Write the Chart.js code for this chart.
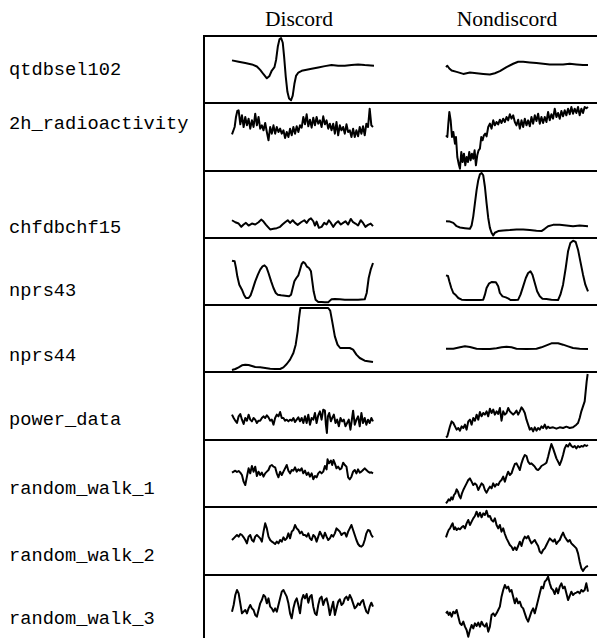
<!DOCTYPE html>
<html>
<head>
<meta charset="utf-8">
<script src="https://cdn.jsdelivr.net/npm/chart.js@4.4.0/dist/chart.umd.min.js"></script>
<style>
  body { margin: 0; background: #fff; }
  #page { position: relative; width: 597px; height: 638px; overflow: hidden; background: #fff; }
  .hline { position: absolute; left: 203px; right: 0; height: 2px; background: #000; z-index: 2; }
  .vline { position: absolute; left: 203px; width: 2px; bottom: 0; background: #000; z-index: 2; }
  .label { position: absolute; left: 9px; font-family: "Liberation Mono", "Courier New", monospace; font-size: 18.7px; line-height: 0; white-space: pre; color: #000; }
  .head { position: absolute; font-family: "Liberation Serif", "Times New Roman", serif; font-size: 21.5px; line-height: 0; white-space: pre; color: #000; transform: translateX(-50%); }
  canvas { position: absolute; z-index: 1; }
</style>
</head>
<body>
<div id="page"></div>
<script>
// Du lieu -----------------------------------------------------------------
// ten chuoi (cot trai)
const seriesNames = ["qtdbsel102", "2h_radioactivity", "chfdbchf15", "nprs43", "nprs44",
  "power_data", "random_walk_1", "random_walk_2", "random_walk_3"];
const columnTitles = ["Discord", "Nondiscord"];

// moi diem: [thoi gian, gia tri]
const qtdbDiscord = [[20,126],[40,122],[60,118],[80,114],[95,108],[105,98],[115,85],[125,73],[133,80],[140,96],[148,106],[153,128],[158,166],[163,188],[168,192],[173,178],[177,138],[182,78],[187,33],[192,13],[198,8],[203,22],[208,56],[213,80],[220,90],[230,95],[245,98],[260,101],[280,105],[300,109],[320,112],[340,110],[360,110],[380,112],[400,114],[420,112],[448,110]];
const qtdbNondiscord = [[18,106],[22,110],[28,102],[35,96],[50,92],[70,86],[90,90],[110,88],[130,86],[150,84],[165,88],[180,94],[200,106],[220,116],[235,122],[250,122],[270,120],[290,118],[310,116],[330,114],[350,114],[370,114],[390,116],[410,114],[430,112],[445,112]];

const radioDiscord = [[20,110],[28,132],[32,162],[36,180],[40,182],[45,140],[50,167],[55,132],[60,162],[65,137],[70,157],[75,127],[80,152],[85,132],[90,172],[95,137],[100,162],[105,127],[110,137],[115,122],[120,144],[125,117],[130,92],[135,132],[140,112],[145,137],[150,112],[155,132],[160,117],[165,127],[170,112],[175,122],[180,99],[185,117],[190,102],[195,127],[200,107],[205,132],[210,112],[215,134],[220,117],[225,137],[230,130],[235,162],[240,140],[245,170],[250,134],[255,154],[260,130],[265,160],[270,137],[275,162],[280,142],[285,152],[290,132],[295,164],[300,140],[305,152],[310,127],[315,142],[320,122],[325,142],[330,112],[335,147],[340,107],[345,137],[350,122],[355,132],[360,112],[365,140],[370,117],[375,122],[380,102],[385,127],[390,102],[395,122],[400,104],[405,132],[410,112],[415,134],[420,107],[425,142],[430,132],[435,187],[440,137],[445,132]];
const radioNondiscord = [[18,107],[22,102],[25,142],[28,177],[32,152],[36,102],[40,117],[45,82],[48,102],[52,42],[56,22],[60,7],[64,57],[68,27],[72,52],[76,17],[80,42],[84,27],[88,57],[92,32],[96,52],[100,37],[104,62],[108,17],[112,47],[116,62],[120,67],[124,102],[128,92],[132,107],[136,112],[140,104],[145,132],[150,142],[155,127],[160,152],[165,137],[170,147],[175,140],[180,154],[185,144],[190,157],[195,147],[200,162],[205,152],[210,170],[215,157],[220,167],[225,147],[230,137],[235,154],[240,127],[245,152],[250,132],[255,157],[260,137],[265,152],[270,134],[275,162],[280,142],[285,167],[290,150],[295,172],[300,142],[305,162],[310,144],[315,162],[320,147],[325,177],[330,152],[335,170],[340,157],[345,187],[350,162],[355,174],[360,157],[365,180],[370,164],[375,182],[380,167],[385,187],[390,170],[395,192],[400,172],[405,187],[410,174],[415,192],[420,167],[425,187],[430,174],[435,192],[440,188],[445,192]];

const chfDiscord = [[20,54],[30,48],[40,44],[48,34],[55,41],[62,46],[70,38],[80,44],[90,41],[100,48],[108,56],[115,50],[122,41],[128,34],[135,26],[145,28],[155,30],[165,34],[172,41],[180,48],[188,54],[195,46],[203,54],[210,46],[218,40],[228,48],[238,54],[245,46],[252,56],[258,60],[265,51],[270,38],[275,50],[282,31],[290,34],[298,46],[305,41],[312,54],[318,46],[325,34],[332,44],[340,51],[348,41],[355,46],[362,51],[370,41],[378,58],[385,48],[392,44],[400,38],[408,54],[415,46],[422,34],[430,40],[438,44],[445,36]];
const chfNondiscord = [[18,51],[30,50],[40,46],[50,36],[60,32],[75,30],[90,28],[95,38],[100,66],[105,106],[110,146],[115,176],[120,194],[125,198],[130,191],[135,156],[140,106],[145,61],[150,31],[155,16],[160,8],[165,16],[175,21],[190,23],[210,24],[230,26],[250,26],[270,24],[290,22],[305,21],[315,28],[325,36],[340,40],[360,40],[380,38],[400,36],[420,38],[445,36]];

const nprs43Discord = [[20,133],[28,131],[32,111],[36,86],[42,61],[50,46],[56,31],[62,21],[70,21],[76,29],[82,46],[90,71],[98,91],[105,106],[112,116],[118,119],[124,113],[130,96],[138,71],[145,51],[152,36],[158,31],[168,29],[180,28],[192,26],[198,31],[203,51],[208,71],[214,81],[220,89],[225,106],[230,123],[235,129],[240,125],[246,115],[252,111],[258,101],[262,71],[266,41],[272,16],[280,9],[290,9],[300,8],[310,8],[315,13],[320,17],[330,18],[345,17],[360,16],[380,16],[400,16],[420,17],[426,36],[432,81],[438,106],[445,126]];
const nprs43Nondiscord = [[18,89],[24,87],[28,71],[34,51],[40,36],[48,29],[55,21],[65,16],[80,15],[100,15],[120,15],[130,16],[135,31],[140,51],[147,64],[155,69],[168,68],[175,56],[180,36],[188,26],[198,23],[206,19],[212,15],[225,15],[235,16],[242,31],[250,56],[258,81],[265,96],[272,101],[278,91],[285,66],[292,41],[300,26],[308,19],[320,18],[335,16],[355,15],[362,31],[370,61],[378,111],[385,161],[392,186],[400,193],[408,189],[415,166],[422,131],[430,91],[437,61],[445,41]];

const nprs44Discord = [[20,6],[30,9],[40,14],[50,20],[60,22],[70,21],[80,18],[90,15],[105,14],[120,12],[135,10],[150,9],[165,9],[175,14],[185,24],[195,37],[205,57],[212,82],[218,122],[222,162],[226,192],[232,192],[250,192],[270,192],[290,192],[310,192],[316,184],[322,152],[330,107],[338,82],[346,72],[360,72],[375,72],[385,67],[395,52],[405,42],[420,34],[445,30]];
const nprs44Nondiscord = [[18,70],[40,70],[60,74],[75,77],[90,75],[110,70],[130,69],[150,69],[170,71],[185,74],[200,76],[215,74],[230,70],[260,69],[290,70],[305,74],[320,80],[335,86],[355,86],[370,82],[385,77],[400,72],[420,70],[445,69]];

const powerDiscord = [[20,76],[25,66],[30,58],[35,51],[40,71],[45,78],[50,61],[55,48],[60,66],[65,58],[70,76],[75,61],[80,56],[85,66],[90,61],[95,51],[100,58],[105,58],[110,66],[115,71],[120,66],[125,74],[130,68],[135,58],[140,61],[145,46],[150,66],[155,76],[160,71],[165,84],[170,66],[175,66],[180,58],[185,61],[190,56],[195,61],[200,58],[205,66],[210,54],[215,61],[220,68],[225,56],[230,66],[235,51],[240,71],[245,51],[250,76],[255,46],[260,66],[265,61],[270,81],[275,51],[280,74],[285,86],[290,61],[295,91],[300,88],[303,46],[306,21],[309,71],[313,81],[318,56],[322,66],[327,76],[332,51],[337,61],[342,41],[347,66],[352,56],[357,61],[362,41],[367,51],[372,61],[377,31],[382,66],[385,88],[390,46],[395,61],[400,71],[405,41],[410,81],[415,51],[420,66],[425,46],[430,61],[435,51],[440,66],[445,56]];
const powerNondiscord = [[18,8],[22,11],[26,26],[30,41],[35,56],[40,51],[45,41],[50,31],[55,36],[60,28],[65,41],[70,36],[75,46],[80,31],[85,56],[90,61],[95,46],[100,66],[105,58],[110,76],[115,61],[120,84],[125,71],[130,81],[135,76],[140,86],[145,71],[150,94],[155,81],[160,91],[165,76],[170,86],[175,78],[180,96],[185,58],[190,86],[195,76],[200,81],[205,96],[210,86],[215,81],[220,76],[225,81],[230,88],[235,76],[240,86],[245,98],[250,91],[255,81],[260,61],[265,46],[270,31],[275,36],[280,26],[285,38],[290,28],[295,36],[300,31],[305,41],[310,36],[315,46],[320,34],[325,40],[330,36],[340,38],[350,34],[360,38],[370,36],[380,40],[390,36],[400,38],[410,46],[415,51],[420,66],[425,86],[430,101],[435,116],[438,146],[441,176],[444,198]];

const rw1Discord = [[20,103],[25,106],[30,109],[35,105],[40,108],[45,103],[50,96],[55,76],[60,66],[65,91],[70,116],[75,101],[80,123],[85,106],[90,121],[95,93],[100,106],[105,96],[110,103],[115,91],[120,101],[125,106],[130,111],[135,123],[140,126],[145,121],[150,119],[155,101],[160,89],[165,106],[170,96],[175,106],[180,116],[185,126],[190,109],[195,101],[200,111],[205,109],[210,119],[215,106],[220,113],[225,109],[230,116],[235,101],[240,109],[245,96],[250,103],[255,91],[260,101],[265,83],[270,93],[275,89],[280,101],[285,106],[290,101],[295,106],[300,123],[305,113],[308,143],[312,131],[318,139],[322,126],[326,141],[330,131],[335,116],[340,121],[345,113],[350,116],[355,133],[360,126],[365,121],[370,89],[375,83],[380,91],[385,106],[390,111],[395,101],[400,113],[405,103],[410,106],[415,111],[420,116],[425,111],[430,106],[435,103],[440,104],[445,101]];
const rw1Nondiscord = [[18,11],[22,16],[26,23],[30,19],[34,29],[38,23],[42,36],[46,41],[50,53],[54,46],[58,33],[62,26],[66,41],[70,51],[75,61],[80,71],[85,81],[90,86],[95,76],[100,66],[105,71],[110,66],[115,51],[120,61],[125,71],[130,66],[135,51],[140,43],[145,53],[150,61],[155,56],[160,71],[165,61],[170,69],[175,66],[180,76],[185,81],[190,91],[195,76],[200,93],[205,106],[210,96],[215,101],[220,116],[225,129],[230,131],[235,121],[240,111],[245,131],[250,146],[255,156],[260,153],[265,136],[270,129],[275,131],[280,126],[285,121],[290,113],[295,111],[300,116],[305,123],[310,126],[315,129],[320,133],[325,151],[330,171],[335,189],[340,176],[345,161],[350,146],[355,136],[360,126],[365,139],[370,156],[375,176],[380,186],[385,181],[390,191],[395,183],[400,179],[405,183],[410,176],[415,183],[420,179],[425,183],[430,181],[435,186],[440,183],[445,186]];

const rw2Discord = [[20,105],[25,110],[30,115],[35,120],[40,115],[45,123],[50,120],[55,113],[60,105],[65,95],[70,115],[75,120],[80,105],[85,100],[90,115],[95,120],[100,115],[105,110],[110,100],[115,130],[120,155],[125,140],[130,115],[135,105],[140,100],[145,97],[150,93],[155,100],[160,95],[165,105],[170,100],[175,113],[180,105],[185,110],[190,125],[195,110],[200,130],[205,135],[210,150],[215,140],[220,135],[225,125],[230,130],[235,120],[240,120],[245,115],[250,125],[255,110],[260,105],[265,120],[270,115],[275,100],[280,115],[285,130],[290,120],[295,110],[300,127],[305,115],[310,105],[315,110],[320,120],[325,115],[330,125],[335,140],[340,135],[345,130],[350,120],[355,125],[360,127],[365,115],[370,130],[375,140],[380,150],[385,135],[390,120],[395,105],[400,93],[405,87],[410,85],[415,90],[420,105],[425,125],[430,135],[435,133],[440,120],[445,113]];
const rw2Nondiscord = [[18,113],[22,125],[26,135],[30,140],[35,150],[38,155],[42,137],[46,143],[50,135],[55,140],[60,137],[65,143],[70,147],[75,140],[80,155],[85,165],[90,150],[95,160],[100,170],[105,177],[110,190],[115,175],[120,187],[125,173],[130,185],[135,180],[140,193],[145,175],[150,177],[155,165],[160,160],[165,170],[170,150],[175,140],[180,150],[185,130],[190,140],[195,123],[200,110],[205,100],[210,90],[215,85],[220,75],[225,83],[230,75],[235,87],[240,100],[245,87],[250,105],[255,115],[260,110],[265,117],[270,105],[275,95],[280,100],[285,105],[290,95],[295,87],[300,70],[305,65],[310,75],[315,80],[320,90],[325,100],[330,110],[335,105],[340,100],[345,107],[350,93],[355,100],[360,105],[365,117],[370,127],[375,115],[380,107],[385,100],[390,105],[395,95],[400,90],[405,85],[410,80],[415,65],[420,40],[425,20],[430,12],[435,20],[440,25],[445,27]];

const rw3Discord = [[20,79],[25,99],[30,129],[35,144],[40,134],[45,104],[50,74],[55,79],[60,84],[65,74],[70,89],[75,99],[80,89],[85,84],[90,69],[95,64],[100,84],[105,104],[110,114],[115,129],[120,124],[125,104],[130,119],[135,94],[140,89],[145,79],[150,89],[155,79],[160,99],[165,119],[170,139],[175,144],[180,134],[185,124],[190,104],[195,74],[200,59],[205,89],[210,109],[215,119],[220,99],[225,74],[230,114],[235,129],[240,119],[245,132],[250,106],[255,124],[260,129],[265,94],[270,74],[275,69],[280,99],[285,119],[290,124],[295,99],[300,114],[305,119],[310,99],[315,69],[320,89],[325,109],[330,69],[335,89],[340,109],[345,116],[350,99],[355,104],[360,119],[365,124],[370,114],[375,129],[380,119],[385,104],[390,89],[395,94],[400,104],[405,99],[410,109],[415,114],[420,94],[425,79],[430,74],[435,94],[440,106],[445,94]];
const rw3Nondiscord = [[18,74],[22,79],[26,69],[30,76],[35,64],[40,79],[45,74],[50,84],[55,64],[60,44],[65,39],[70,49],[75,34],[80,24],[85,4],[90,24],[95,39],[100,29],[105,44],[110,36],[115,46],[120,34],[125,49],[130,39],[135,34],[140,44],[145,19],[150,34],[155,69],[160,74],[165,66],[170,74],[175,84],[180,94],[185,124],[190,144],[195,159],[200,149],[205,154],[210,139],[215,144],[220,124],[225,104],[230,119],[235,104],[240,109],[245,94],[250,89],[255,74],[260,59],[265,49],[270,64],[275,79],[280,89],[285,74],[290,94],[295,114],[300,134],[305,154],[310,149],[315,169],[320,174],[325,184],[330,164],[335,149],[340,144],[345,132],[350,149],[355,134],[360,154],[365,164],[370,149],[375,154],[380,134],[385,114],[390,126],[395,139],[400,129],[405,134],[410,136],[415,139],[420,134],[425,144],[430,139],[435,144],[440,164],[445,139]];

const discordSeries = [qtdbDiscord, radioDiscord, chfDiscord, nprs43Discord, nprs44Discord, powerDiscord, rw1Discord, rw2Discord, rw3Discord];
const nondiscordSeries = [qtdbNondiscord, radioNondiscord, chfNondiscord, nprs43Nondiscord, nprs44Nondiscord, powerNondiscord, rw1Nondiscord, rw2Nondiscord, rw3Nondiscord];
// gioi han truc gia tri cua tung hang
const rowValueMax = [198, 204, 204, 201, 201, 204, 201, 204, 189];

// Bo cuc ------------------------------------------------------------------
const page = document.getElementById("page");
const rowTops = [36, 103, 171, 238, 305, 372, 440, 507, 575];
const pageBottom = 638;
const labelY = [70, 124, 228, 291, 356, 420, 489, 556, 619];
const titleX = [299, 507];

function addDiv(cls, css, text) {
  const d = document.createElement("div");
  d.className = cls;
  Object.assign(d.style, css);
  if (text) d.textContent = text;
  page.appendChild(d);
  return d;
}

// tieu de cot
columnTitles.forEach((t, i) => addDiv("head", { left: titleX[i] + "px", top: "19px" }, t));
// duong ke doc ben trai
addDiv("vline", { top: (rowTops[0] - 1) + "px" });

function drawSpark(series, left, top, height, xMin, xMax, yMax) {
  const cv = document.createElement("canvas");
  cv.width = 158;
  cv.height = height;
  cv.style.left = left + "px";
  cv.style.top = top + "px";
  page.appendChild(cv);
  new Chart(cv, {
    type: "line",
    data: {
      datasets: [{
        data: series,
        borderColor: "#000",
        borderWidth: 2,
        pointRadius: 0,
        tension: 0,
        clip: false,
        borderJoinStyle: "round"
      }]
    },
    options: {
      responsive: false,
      animation: false,
      devicePixelRatio: 1,
      layout: { padding: { left: 8, right: 8, top: 0, bottom: 0 } },
      plugins: { legend: { display: false }, tooltip: { enabled: false } },
      scales: {
        x: { type: "linear", min: xMin, max: xMax, display: false },
        y: { min: 0, max: yMax, display: false }
      }
    }
  });
}

seriesNames.forEach((name, i) => {
  const top = rowTops[i];
  const bottom = i + 1 < rowTops.length ? rowTops[i + 1] : pageBottom;
  addDiv("hline", { top: (top - 1) + "px" });
  addDiv("label", { top: labelY[i] + "px" }, name);
  drawSpark(discordSeries[i], 224, top, bottom - top, 20, 448, rowValueMax[i]);
  drawSpark(nondiscordSeries[i], 438, top, bottom - top, 18, 445, rowValueMax[i]);
});
</script>
</body>
</html>
